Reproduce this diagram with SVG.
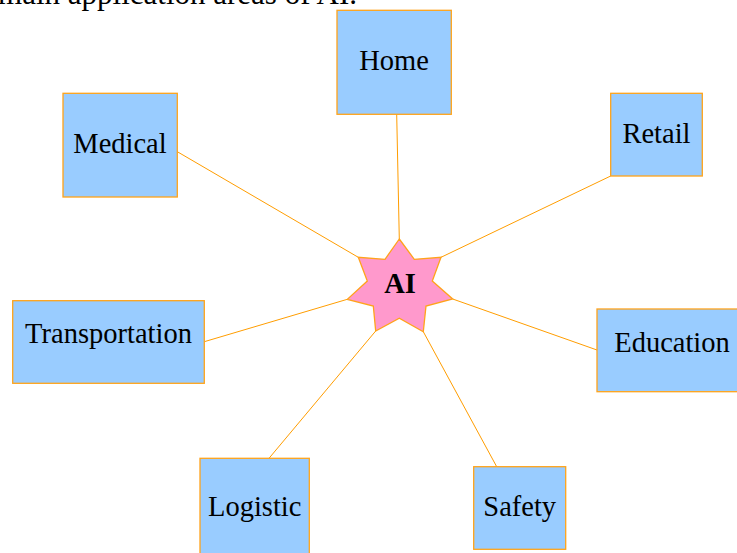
<svg xmlns="http://www.w3.org/2000/svg" width="737" height="553" viewBox="0 0 737 553">
<style>
.box{fill:#99ccff;stroke:#ffa31a;stroke-width:1.3}
.con{stroke:#ff9d00;stroke-width:1;fill:none}
</style>
<rect width="737" height="553" fill="#ffffff"/>
<text x="357" y="4" font-family="Liberation Serif, serif" font-size="31" text-anchor="end" fill="#000">main application areas of AI.</text>
<g id="connectors">
<line class="con" x1="396.7" y1="114.3" x2="399.3" y2="239"/>
<line class="con" x1="610.7" y1="176" x2="441" y2="257.3"/>
<line class="con" x1="177.3" y1="151.7" x2="358.3" y2="257.3"/>
<line class="con" x1="204.3" y1="341.7" x2="347.3" y2="299.3"/>
<line class="con" x1="597" y1="350" x2="452.7" y2="299"/>
<line class="con" x1="269" y1="458.3" x2="375.7" y2="331"/>
<line class="con" x1="496.7" y1="466.7" x2="423.3" y2="331.7"/>
</g>
<g font-family="Liberation Serif, serif" font-size="28.5" text-anchor="middle" fill="#000">
<g id="home"><rect class="box" x="337" y="10.3" width="114.3" height="104"/><text x="394" y="70">Home</text></g>
<g id="retail"><rect class="box" x="610.7" y="93.3" width="91.6" height="82.7"/><text x="656.5" y="143.3">Retail</text></g>
<g id="medical"><rect class="box" x="63" y="93.3" width="114.3" height="103.7"/><text x="120" y="152.7">Medical</text></g>
<g id="transportation"><rect class="box" x="12.7" y="300.7" width="191.6" height="82.6"/><text x="108.5" y="343.3">Transportation</text></g>
<g id="education"><rect class="box" x="597" y="309" width="150" height="82.7"/><text x="672" y="351.7">Education</text></g>
<g id="logistic"><rect class="box" x="200" y="458.3" width="109.3" height="104"/><text x="254.7" y="516">Logistic</text></g>
<g id="safety"><rect class="box" x="473.7" y="466.7" width="92" height="82.6"/><text x="519.7" y="516">Safety</text></g>
<g id="ai">
<polygon points="399.3,239 414.3,259.3 441,257.3 432.3,281 452.7,299 426,306 423.3,331.7 399.3,318.3 375.7,331 373.3,306 347.3,299.3 367.3,281 358.3,257.3 385,259.3" fill="#ff99cc" stroke="#ffa31a" stroke-width="1.3" stroke-linejoin="miter"/>
<text x="400" y="292.7" font-weight="bold">AI</text>
</g>
</g>
</svg>
